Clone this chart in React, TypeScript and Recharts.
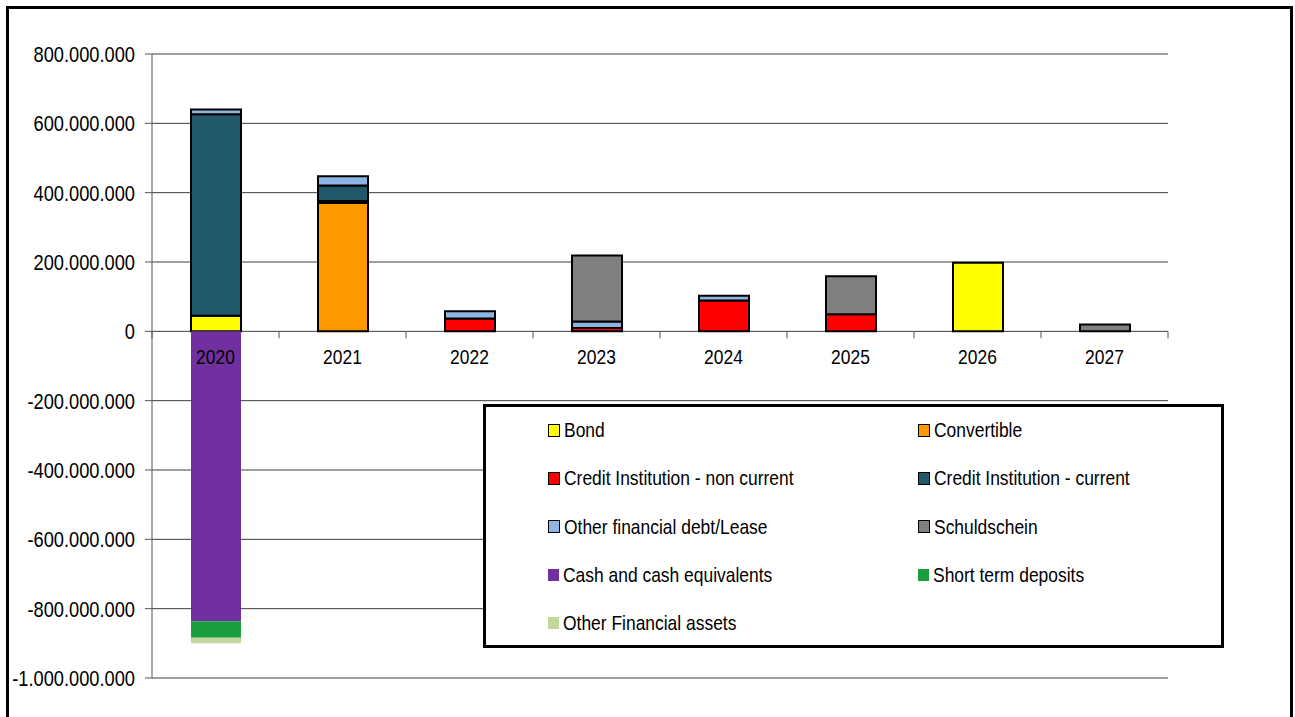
import React from 'react';
import { BarChart, Bar, XAxis, YAxis, CartesianGrid } from 'recharts';

const categories = ['2020', '2021', '2022', '2023', '2024', '2025', '2026', '2027'];

const bond = [45000000, 0, 0, 0, 0, 0, 198000000, 0];
const convertible = [0, 370000000, 0, 0, 0, 0, 0, 0];
const creditNonCurrent = [0, 6000000, 37000000, 9500000, 89000000, 49000000, 0, 0];
const creditCurrent = [581000000, 45000000, 0, 0, 0, 0, 0, 0];
const otherDebt = [14000000, 26000000, 21000000, 19000000, 14000000, 0, 0, 0];
const schuldschein = [0, 0, 0, 190000000, 0, 110000000, 0, 20000000];
const cash = [-836000000, 0, 0, 0, 0, 0, 0, 0];
const shortTerm = [-48000000, 0, 0, 0, 0, 0, 0, 0];
const otherAssets = [-16000000, 0, 0, 0, 0, 0, 0, 0];

const yTicks = [-1000000000, -800000000, -600000000, -400000000, -200000000, 0, 200000000, 400000000, 600000000, 800000000];

const seriesDefs = [
  { key: 'bond', name: 'Bond', values: bond, color: '#FFFF00', border: true },
  { key: 'convertible', name: 'Convertible', values: convertible, color: '#FF9900', border: true },
  { key: 'creditNonCurrent', name: 'Credit Institution - non current', values: creditNonCurrent, color: '#FF0000', border: true },
  { key: 'creditCurrent', name: 'Credit Institution - current', values: creditCurrent, color: '#215968', border: true },
  { key: 'otherDebt', name: 'Other financial debt/Lease', values: otherDebt, color: '#8DB4E2', border: true },
  { key: 'schuldschein', name: 'Schuldschein', values: schuldschein, color: '#808080', border: true },
  { key: 'cash', name: 'Cash and cash equivalents', values: cash, color: '#7030A0', border: false },
  { key: 'shortTerm', name: 'Short term deposits', values: shortTerm, color: '#1A9E40', border: false },
  { key: 'otherAssets', name: 'Other Financial assets', values: otherAssets, color: '#C3D69B', border: false },
];

const data = categories.map((c, i) => {
  const row: Record<string, any> = { year: c };
  seriesDefs.forEach((s) => {
    row[s.key] = s.values[i];
  });
  return row;
});

const W = 1295;
const H = 717;
const TOP = 54;
const PLOT_LEFT = 152;
const PLOT_RIGHT = 1168;
const PLOT_BOTTOM = 678;
const PLOT_H = PLOT_BOTTOM - TOP;
const Y_MIN = -1000000000;
const Y_MAX = 800000000;
const ZERO_Y = TOP + (Y_MAX / (Y_MAX - Y_MIN)) * PLOT_H;
const BAND = (PLOT_RIGHT - PLOT_LEFT) / categories.length;
const SQUEEZE = 0.83;

const FONT = '"Liberation Sans", Arial, sans-serif';

const fmt = (v: number) => {
  const s = Math.abs(v).toString().replace(/\B(?=(\d{3})+(?!\d))/g, '.');
  return v < 0 ? '-' + s : s;
};

const YearTick = (props: any) => {
  const { x, index, payload } = props;
  const last = index === categories.length - 1;
  return (
    <g>
      <line x1={x - BAND / 2} x2={x - BAND / 2} y1={ZERO_Y} y2={ZERO_Y + 7} stroke="#555" strokeWidth={1} />
      {last && <line x1={x + BAND / 2} x2={x + BAND / 2} y1={ZERO_Y} y2={ZERO_Y + 7} stroke="#555" strokeWidth={1} />}
      <text
        transform={`translate(${x},${ZERO_Y + 33}) scale(${SQUEEZE},1)`}
        textAnchor="middle"
        fontFamily={FONT}
        fontSize={21}
        fill="#000"
      >
        {payload.value}
      </text>
    </g>
  );
};

const ValueTick = (props: any) => {
  const { x, y, payload } = props;
  return (
    <text
      transform={`translate(${x},${y}) scale(${SQUEEZE},1)`}
      textAnchor="end"
      dy="0.36em"
      fontFamily={FONT}
      fontSize={22}
      fill="#000"
    >
      {fmt(payload.value)}
    </text>
  );
};

const LegendBox = () => {
  const rows: any[][] = [];
  for (let i = 0; i < seriesDefs.length; i += 2) rows.push(seriesDefs.slice(i, i + 2));
  return (
    <div
      style={{
        position: 'absolute',
        left: 483,
        top: 404,
        width: 741,
        height: 244,
        boxSizing: 'border-box',
        border: '3px solid #000',
        background: '#fff',
        fontFamily: FONT,
        fontSize: 21,
        color: '#000',
      }}
    >
      {rows.map((r, ri) =>
        r.map((s, ci) => (
          <div
            key={s.key}
            style={{
              position: 'absolute',
              left: (ci === 0 ? 548 : 918) - 486,
              top: 430 - 407 + ri * 48.3 - 12,
              height: 24,
              display: 'flex',
              alignItems: 'center',
              whiteSpace: 'nowrap',
            }}
          >
            <span
              style={{
                display: 'inline-block',
                width: s.border ? 10 : 11,
                height: s.border ? 11 : 12,
                background: s.color,
                border: s.border ? '1.5px solid #000' : 'none',
                marginRight: 4,
                flex: 'none',
              }}
            />
            <span style={{ display: 'inline-block', transform: `scaleX(${SQUEEZE})`, transformOrigin: 'left center' }}>
              {s.name}
            </span>
          </div>
        ))
      )}
    </div>
  );
};

export default function App() {
  return (
    <div style={{ position: 'absolute', left: 0, top: 0, width: W, height: H, background: '#fff', overflow: 'hidden' }}>
      <div
        style={{
          position: 'absolute',
          left: 6,
          top: 6,
          width: 1287,
          height: 730,
          boxSizing: 'border-box',
          border: '3px solid #000',
        }}
      />
      <div style={{ position: 'absolute', left: 0, top: 0 }}>
        <BarChart
          width={W}
          height={H}
          data={data}
          stackOffset="sign"
          barSize={50}
          margin={{ top: TOP, right: W - PLOT_RIGHT, left: 0, bottom: H - PLOT_BOTTOM - 1 }}
        >
          <CartesianGrid vertical={false} stroke="#3c3c3c" strokeWidth={1} />
          <XAxis dataKey="year" height={1} axisLine={false} tickLine={false} tick={<YearTick />} interval={0} />
          <YAxis
            width={PLOT_LEFT}
            domain={[Y_MIN, Y_MAX]}
            ticks={yTicks}
            axisLine={{ stroke: '#555' }}
            tickLine={{ stroke: '#555' }}
            tickSize={7}
            tickMargin={10}
            tick={<ValueTick />}
            allowDataOverflow
            interval={0}
          />
          {seriesDefs.map((s) => (
            <Bar
              key={s.key}
              dataKey={s.key}
              name={s.name}
              stackId="a"
              fill={s.color}
              stroke={s.border ? '#000' : 'none'}
              strokeWidth={s.border ? 2 : 0}
              isAnimationActive={false}
            />
          ))}
        </BarChart>
      </div>
      <LegendBox />
    </div>
  );
}
